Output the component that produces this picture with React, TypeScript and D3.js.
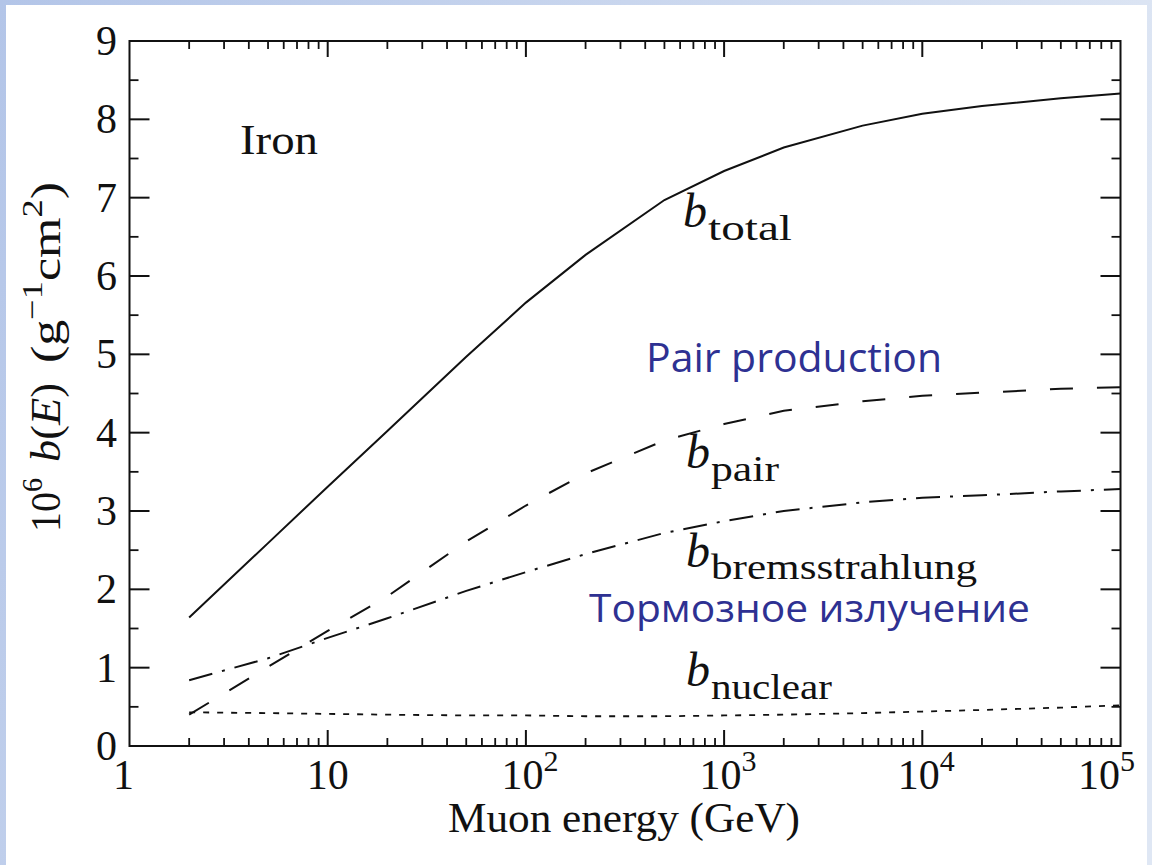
import React from "react";
import * as d3 from "d3";

const energies = [2, 5, 10, 20, 50, 100, 200, 500, 1e3, 2e3, 5e3, 1e4, 2e4, 5e4, 1e5];
const bTotal = [1.64, 2.59, 3.31, 4.02, 4.97, 5.66, 6.27, 6.97, 7.34, 7.64, 7.92, 8.07, 8.17, 8.27, 8.33];
const bPair = [0.4, 1.01, 1.47, 1.91, 2.61, 3.07, 3.48, 3.9, 4.11, 4.28, 4.4, 4.47, 4.51, 4.56, 4.58];
const bBrems = [0.84, 1.12, 1.38, 1.63, 1.98, 2.22, 2.45, 2.72, 2.87, 3.0, 3.11, 3.17, 3.2, 3.25, 3.28];
const bNuclear = [0.43, 0.42, 0.41, 0.4, 0.39, 0.39, 0.38, 0.38, 0.39, 0.4, 0.42, 0.44, 0.46, 0.49, 0.52];

const xTickExps = [0, 1, 2, 3, 4, 5];
const yTicks = [0, 1, 2, 3, 4, 5, 6, 7, 8, 9];

const W = 1152;
const H = 865;
const X0 = 129.5, X1 = 1120.5, Y0 = 746, Y1 = 41;
const SERIF = "'Liberation Serif', 'Times New Roman', serif";
const SANS = "'Open Sans', 'Noto Sans', sans-serif";
const BLUE = "#2e3192";
const INK = "#111";

export default function App() {
  const x = d3.scaleLog().domain([1, 1e5]).range([X0, X1]);
  const y = d3.scaleLinear().domain([0, 9]).range([Y0, Y1]);
  const mk = (vals: number[]) =>
    d3.line<number>().x((_, i) => x(energies[i])).y((v) => y(v))(vals) || "";

  const minorX: number[] = [];
  for (let e = 0; e < 5; e++) for (let m = 2; m <= 9; m++) minorX.push(m * Math.pow(10, e));
  const minorY: number[] = [];
  for (let v = 0.5; v < 9; v += 1) minorY.push(v);

  const series = [
    { vals: bTotal, dash: "none", w: 2 },
    { vals: bPair, dash: "23 24", w: 2 },
    { vals: bBrems, dash: "24 10 3 10", w: 2 },
    { vals: bNuclear, dash: "6 8", w: 1.8 },
  ];

  const sub = (bx: number, by: number, label: string, len: number, dy = 13) => (
    <g>
      <text x={bx} y={by} fontFamily={SERIF} fontSize={48} fontStyle="italic" fill={INK}>b</text>
      <text x={bx + 25} y={by + dy} fontFamily={SERIF} fontSize={36} fill={INK}
        textLength={len} lengthAdjust="spacingAndGlyphs">{label}</text>
    </g>
  );

  return (
    <svg width={W} height={H} style={{ position: "absolute", left: 0, top: 0 }}>
      <defs>
        <linearGradient id="bg" x1="0" y1="0" x2="1" y2="0.3">
          <stop offset="0" stopColor="#b3c5e8" />
          <stop offset="1" stopColor="#dfe7f4" />
        </linearGradient>
      </defs>
      <rect x={0} y={0} width={W} height={H} fill="url(#bg)" />
      <rect x={6} y={5} width={1141} height={H - 5} fill="#ffffff" />

      {series.map((s, i) => (
        <path key={i} d={mk(s.vals)} fill="none" stroke={INK} strokeWidth={s.w}
          strokeDasharray={s.dash === "none" ? undefined : s.dash} />
      ))}

      <rect x={X0} y={Y1} width={X1 - X0} height={Y0 - Y1} fill="none" stroke={INK} strokeWidth={2} />

      {xTickExps.slice(1, 5).map((e) => {
        const px = x(Math.pow(10, e));
        return (
          <g key={"xm" + e} stroke={INK} strokeWidth={2}>
            <line x1={px} x2={px} y1={Y0} y2={Y0 - 16} />
            <line x1={px} x2={px} y1={Y1} y2={Y1 + 16} />
          </g>
        );
      })}
      {minorX.map((v) => {
        const px = x(v);
        return (
          <g key={"xn" + v} stroke={INK} strokeWidth={1.8}>
            <line x1={px} x2={px} y1={Y0} y2={Y0 - 8} />
            <line x1={px} x2={px} y1={Y1} y2={Y1 + 8} />
          </g>
        );
      })}
      {yTicks.slice(1, 9).map((v) => {
        const py = y(v);
        return (
          <g key={"ym" + v} stroke={INK} strokeWidth={2}>
            <line x1={X0} x2={X0 + 20} y1={py} y2={py} />
            <line x1={X1} x2={X1 - 20} y1={py} y2={py} />
          </g>
        );
      })}
      {minorY.map((v) => {
        const py = y(v);
        return (
          <g key={"yn" + v} stroke={INK} strokeWidth={1.8}>
            <line x1={X0} x2={X0 + 9} y1={py} y2={py} />
            <line x1={X1} x2={X1 - 9} y1={py} y2={py} />
          </g>
        );
      })}

      {yTicks.map((v) => (
        <text key={"yl" + v} x={117} y={y(v) + 14} textAnchor="end" fontFamily={SERIF} fontSize={42} fill={INK}>
          {v}
        </text>
      ))}
      {xTickExps.map((e) => {
        const px = x(Math.pow(10, e));
        if (e === 0)
          return (
            <text key="xl0" x={px - 6} y={789} textAnchor="middle" fontFamily={SERIF} fontSize={42} fill={INK}>1</text>
          );
        if (e === 1)
          return (
            <text key="xl1" x={px} y={789} textAnchor="middle" fontFamily={SERIF} fontSize={42} fill={INK}>10</text>
          );
        const anchorX = e === 5 ? px - 14 : px + 4;
        return (
          <text key={"xl" + e} x={anchorX} y={789} textAnchor="middle" fontFamily={SERIF} fontSize={42} fill={INK}>
            10<tspan fontSize={30} dy={-18}>{e}</tspan>
          </text>
        );
      })}

      <text x={624} y={832} textAnchor="middle" fontFamily={SERIF} fontSize={42} fill={INK}
        textLength={352} lengthAdjust="spacingAndGlyphs">
        Muon energy (GeV)
      </text>
      <g transform="translate(60,357) rotate(-90)" fontFamily={SERIF} fill={INK}>
        <text x={-175} y={0} fontSize={43} textLength={54} lengthAdjust="spacingAndGlyphs">
          10<tspan fontSize={30} dy={-18}>6</tspan>
        </text>
        <text x={-105} y={0} fontSize={43} textLength={79} lengthAdjust="spacingAndGlyphs">
          <tspan fontStyle="italic">b</tspan>(<tspan fontStyle="italic">E</tspan>)
        </text>
        <text x={-6} y={0} fontSize={43} textLength={181} lengthAdjust="spacingAndGlyphs">
          (g<tspan fontSize={30} dy={-18}>−1</tspan><tspan dy={18}>cm</tspan><tspan fontSize={30} dy={-18}>2</tspan><tspan dy={18}>)</tspan>
        </text>
      </g>

      <text x={240} y={154} fontFamily={SERIF} fontSize={42} fill={INK} textLength={78} lengthAdjust="spacingAndGlyphs">Iron</text>

      {sub(683, 227, "total", 84)}
      {sub(686, 468, "pair", 68)}
      {sub(686, 567, "bremsstrahlung", 266, 12)}
      {sub(686, 686, "nuclear", 121)}

      <text x={646} y={372} fontFamily={SANS} fontSize={40} fill={BLUE} textLength={296} lengthAdjust="spacingAndGlyphs">
        Pair production
      </text>
      <text x={589} y={622} fontFamily={SANS} fontSize={39} fill={BLUE} textLength={441} lengthAdjust="spacingAndGlyphs">
        Тормозное излучение
      </text>
    </svg>
  );
}
